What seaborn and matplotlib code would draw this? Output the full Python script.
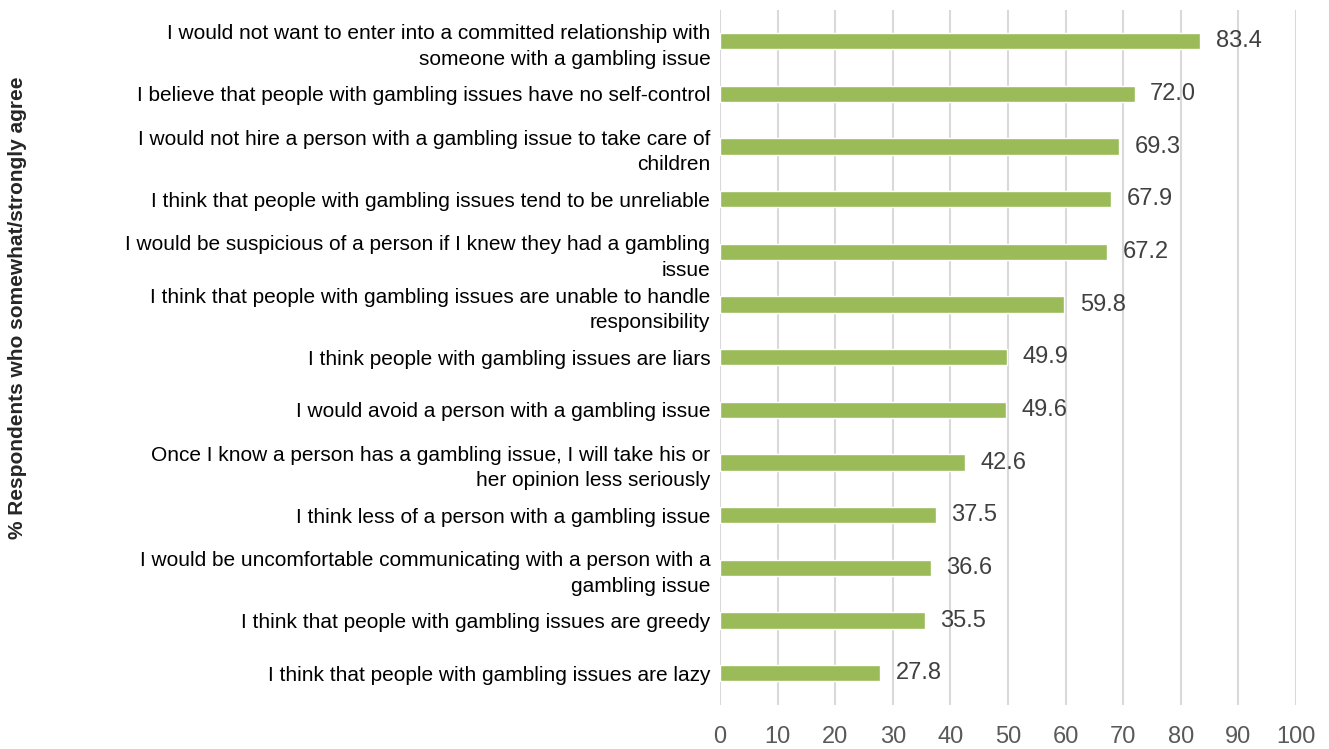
import pandas as pd
import matplotlib
matplotlib.use("Agg")
import matplotlib.pyplot as plt
import seaborn as sns

# datos
labels = [
    "I would not want to enter into a committed relationship with\nsomeone with a gambling issue",
    "I believe that people with gambling issues have no self-control",
    "I would not hire a person with a gambling issue to take care of\nchildren",
    "I think that people with gambling issues tend to be unreliable",
    "I would be suspicious of a person if I knew they had a gambling\nissue",
    "I think that people with gambling issues are unable to handle\nresponsibility",
    "I think people with gambling issues are liars",
    "I would avoid a person with a gambling issue",
    "Once I know a person has a gambling issue, I will take his or\nher opinion less seriously",
    "I think less of a person with a gambling issue",
    "I would be uncomfortable communicating with a person with a\ngambling issue",
    "I think that people with gambling issues are greedy",
    "I think that people with gambling issues are lazy",
]
values = [83.4, 72.0, 69.3, 67.9, 67.2, 59.8, 49.9, 49.6, 42.6, 37.5, 36.6, 35.5, 27.8]
xticks = [0, 10, 20, 30, 40, 50, 60, 70, 80, 90, 100]

df = pd.DataFrame({"label": labels, "value": values})

sns.set_style("white")
plt.rcParams["font.family"] = ["Liberation Sans", "DejaVu Sans"]

fig = plt.figure(figsize=(13.29, 7.49), dpi=100)
ax = fig.add_axes([0.5418, 0.059, 0.4334, 0.928])

sns.barplot(data=df, x="value", y="label", orient="h", color="#9BBB59",
            saturation=1, width=0.31, ax=ax)

ax.bar_label(ax.containers[0], fmt="%.1f", padding=11, fontsize=17, color="#404040")

ax.set_xlim(0, 100)
ax.set_xticks(xticks)
ax.set_ylim(12.6, -0.6)
ax.set_xlabel("")
ax.set_ylabel("")
ax.grid(axis="x", color="#d9d9d9", linewidth=1.5)
ax.set_axisbelow(True)
for s in ax.spines.values():
    s.set_visible(False)
ax.tick_params(axis="x", length=0, labelsize=17, colors="#595959", pad=15)
ax.tick_params(axis="y", length=0, labelsize=15, labelcolor="black", pad=7)
for t in ax.get_yticklabels():
    t.set_horizontalalignment("right")
    t.set_multialignment("right")
    t.set_linespacing(1.45)

fig.text(18 / 1329, 1 - 308 / 749, "% Respondents who somewhat/strongly agree",
         rotation=90, ha="center", va="center", fontsize=15, fontweight="bold")

fig.savefig("out.png", dpi=100)
